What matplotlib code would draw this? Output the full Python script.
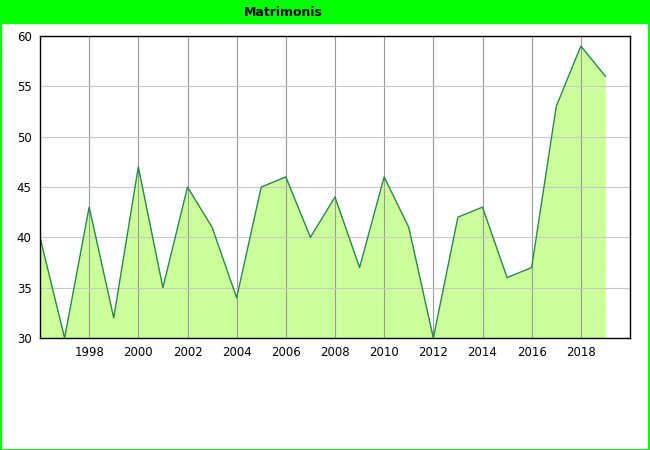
import matplotlib
matplotlib.use("Agg")
import matplotlib.pyplot as plt
from matplotlib.patches import Rectangle

years = list(range(1996, 2020))
values = [40, 30, 43, 32, 47, 35, 45, 41, 34, 45, 46, 40, 44, 37, 46, 41, 30, 42, 43, 36, 37, 53, 59, 56]
xticks = list(range(1998, 2020, 2))
yticks = [30, 35, 40, 45, 50, 55, 60]
title = "Matrimonis"

fig = plt.figure(figsize=(6.5, 4.5), dpi=100)
fig.patch.set_facecolor("white")
# green border
fig.patches.append(Rectangle((0.001, 0.001), 0.997, 0.997, transform=fig.transFigure,
                             fill=False, edgecolor="#00ff00", linewidth=1.5, zorder=0))
# title bar
fig.patches.append(Rectangle((0, 1 - 24 / 450), 1, 24 / 450, transform=fig.transFigure,
                             facecolor="#00ff00", edgecolor="none", zorder=1))
fig.text(283 / 650, 1 - 12 / 450, title, ha="center", va="center", fontsize=9, fontweight="bold", color="black")

ax = fig.add_axes([40 / 650, (450 - 338) / 450, 590 / 650, 302 / 450])
ax.fill_between(years, values, 30, color="#ccff99", linewidth=0, zorder=1)
ax.plot(years, values, color="#228b44", linewidth=1, zorder=3)
ax.set_xlim(1996, 2020)
ax.set_ylim(30, 60)
ax.set_xticks(xticks)
ax.set_yticks(yticks)
ax.tick_params(length=0, labelsize=8.5, pad=6)
ax.xaxis.grid(True, color="#999999", linewidth=0.8, zorder=2)
ax.yaxis.grid(True, color="#c8c8c8", linewidth=0.8, zorder=2)
ax.set_axisbelow(False)
for s in ax.spines.values():
    s.set_color("black")
    s.set_linewidth(1)
    s.set_zorder(4)

fig.savefig("out.png", dpi=100)
